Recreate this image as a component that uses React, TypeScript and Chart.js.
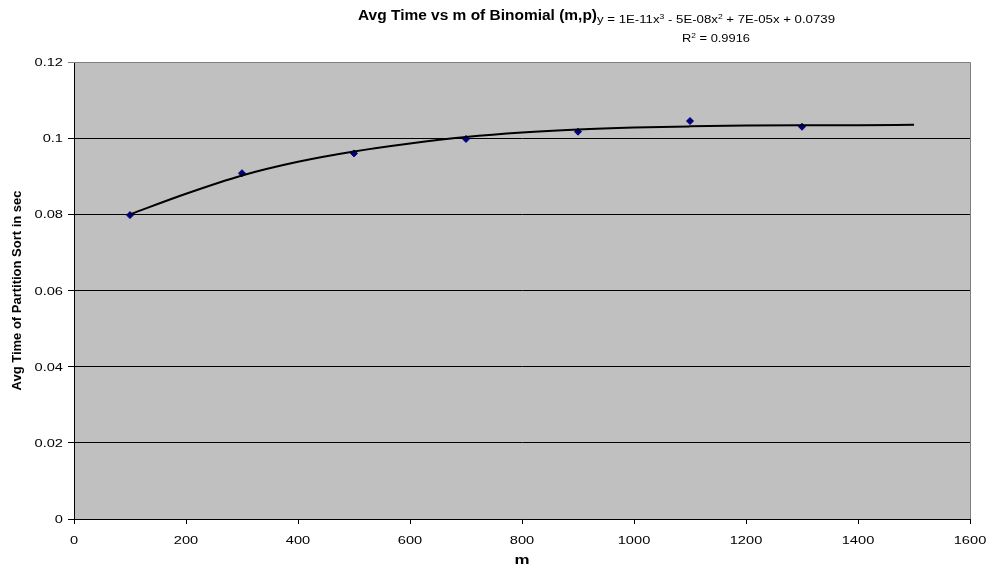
import React, { useEffect, useRef } from "react";
import { Chart, registerables } from "chart.js";

Chart.register(...registerables);

const mValues = [100, 300, 500, 700, 900, 1100, 1300];
const avgTimes = [0.0798, 0.0908, 0.096, 0.0998, 0.1017, 0.1045, 0.103];

const trendM = [100, 200, 300, 400, 500, 600, 700, 800, 900, 1000, 1100, 1200, 1300, 1400, 1500];
const trendTimes = [0.08, 0.0854, 0.0902, 0.0938, 0.0965, 0.0986, 0.1003, 0.1015, 0.1023, 0.1028, 0.1031, 0.1033, 0.1034, 0.1034, 0.1035];

const chartTitle = "Avg Time vs m of Binomial (m,p)";
const xTitle = "m";
const yTitle = "Avg Time of Partition Sort in sec";
const eqParts: [string, boolean][] = [
  ["y = 1E-11x", false],
  ["3", true],
  [" - 5E-08x", false],
  ["2", true],
  [" + 7E-05x + 0.0739", false],
];
const r2Parts: [string, boolean][] = [
  ["R", false],
  ["2", true],
  [" = 0.9916", false],
];

const FONT = "'Liberation Sans', Arial, Helvetica, sans-serif";
const TICK_SX = 1.33;

const fmtX = (v: number) => String(v);
const fmtY = (v: number) => String(+Number(v).toFixed(2));

function partsWidth(ctx: CanvasRenderingContext2D, parts: [string, boolean][], size: number, supSize: number) {
  let w = 0;
  for (const [t, sup] of parts) {
    ctx.font = `${sup ? supSize : size}px ${FONT}`;
    w += ctx.measureText(t).width;
  }
  return w;
}

function drawParts(ctx: CanvasRenderingContext2D, parts: [string, boolean][], x: number, y: number, targetW: number) {
  const size = 11.5;
  const supSize = 7.5;
  const w = partsWidth(ctx, parts, size, supSize);
  const sx = targetW / w;
  ctx.save();
  ctx.translate(x, y);
  ctx.scale(sx, 1);
  let cx = 0;
  for (const [t, sup] of parts) {
    ctx.font = `${sup ? supSize : size}px ${FONT}`;
    ctx.fillText(t, cx, sup ? -4.5 : 0);
    cx += ctx.measureText(t).width;
  }
  ctx.restore();
}

function stretched(ctx: CanvasRenderingContext2D, text: string, x: number, y: number, align: CanvasTextAlign, sx: number, font: string, rot = 0) {
  ctx.save();
  ctx.translate(x, y);
  if (rot) ctx.rotate(rot);
  ctx.scale(sx, 1);
  ctx.font = font;
  ctx.textAlign = align;
  ctx.fillText(text, 0, 0);
  ctx.restore();
}

function fitted(ctx: CanvasRenderingContext2D, text: string, font: string, targetW: number) {
  ctx.font = font;
  return targetW / ctx.measureText(text).width;
}

const decorPlugin = {
  id: "decor",
  beforeDraw(chart: any) {
    const { ctx, chartArea } = chart;
    ctx.save();
    ctx.fillStyle = "#ffffff";
    ctx.fillRect(0, 0, chart.width, chart.height);
    ctx.fillStyle = "#C0C0C0";
    ctx.fillRect(chartArea.left, chartArea.top, chartArea.right - chartArea.left, chartArea.bottom - chartArea.top);
    ctx.restore();
  },
  afterDraw(chart: any) {
    const { ctx, chartArea } = chart;
    ctx.save();
    ctx.strokeStyle = "#808080";
    ctx.lineWidth = 1;
    ctx.beginPath();
    ctx.moveTo(chartArea.left, chartArea.top + 0.5);
    ctx.lineTo(chartArea.right + 0.5, chartArea.top + 0.5);
    ctx.lineTo(chartArea.right + 0.5, chartArea.bottom);
    ctx.stroke();

    ctx.fillStyle = "#000";
    ctx.textBaseline = "alphabetic";

    // tick labels (from the library's scales)
    const tickFont = `11px ${FONT}`;
    const xs = chart.scales.x;
    xs.ticks.forEach((t: any) => {
      stretched(ctx, fmtX(t.value), xs.getPixelForValue(t.value), chartArea.bottom + 24.5, "center", TICK_SX, tickFont);
    });
    const ys = chart.scales.y;
    ys.ticks.forEach((t: any) => {
      stretched(ctx, fmtY(t.value), chartArea.left - 11, ys.getPixelForValue(t.value) + 4, "right", TICK_SX, tickFont);
    });

    // axis titles
    const yFont = `bold 12.5px ${FONT}`;
    const ySx = fitted(ctx, yTitle, yFont, 200);
    stretched(ctx, yTitle, 20.5, (chartArea.top + chartArea.bottom) / 2, "center", ySx, yFont, -Math.PI / 2);
    const xFont = `bold 13px ${FONT}`;
    stretched(ctx, xTitle, (chartArea.left + chartArea.right) / 2, 564, "center", 1.3, xFont);

    // chart title and trendline label
    const tFont = `bold 14px ${FONT}`;
    const tSx = fitted(ctx, chartTitle, tFont, 239);
    stretched(ctx, chartTitle, 358, 20, "left", tSx, tFont);
    drawParts(ctx, eqParts, 597, 23, 238);
    drawParts(ctx, r2Parts, 682, 42, 68);
    ctx.restore();
  },
};

export default function App() {
  const ref = useRef<HTMLCanvasElement | null>(null);
  useEffect(() => {
    document.body.style.margin = "0";
    const canvas = ref.current!;
    const chart = new Chart(canvas, {
      type: "scatter",
      data: {
        datasets: [
          {
            label: "trend",
            data: trendM.map((m, i) => ({ x: m, y: trendTimes[i] })),
            showLine: true,
            borderColor: "#000",
            borderWidth: 2,
            pointRadius: 0,
            tension: 0.4,
            cubicInterpolationMode: "monotone",
          },
          {
            label: "data",
            data: mValues.map((m, i) => ({ x: m, y: avgTimes[i] })),
            showLine: false,
            pointStyle: "rectRot",
            pointRadius: 3.5,
            backgroundColor: "#000080",
            borderColor: "#000080",
            borderWidth: 1,
          },
        ],
      },
      options: {
        animation: false,
        responsive: false,
        devicePixelRatio: 1,
        layout: { padding: { top: 62, right: 20, left: 0, bottom: 0 } },
        plugins: { legend: { display: false }, tooltip: { enabled: false }, title: { display: false } },
        scales: {
          x: {
            type: "linear",
            min: 0,
            max: 1600,
            ticks: {
              stepSize: 200,
              color: "rgba(0,0,0,0)",
              font: { family: FONT, size: 11 },
              padding: 6,
              callback: (v: any) => fmtX(v),
            },
            grid: { drawOnChartArea: false, drawTicks: true, tickLength: 5, color: "#000" },
            border: { color: "#000", width: 1 },
            title: { display: false, text: xTitle },
            afterFit: (s: any) => { s.height = 50; },
          },
          y: {
            min: 0,
            max: 0.12,
            ticks: {
              stepSize: 0.02,
              color: "rgba(0,0,0,0)",
              font: { family: FONT, size: 11 },
              padding: 4,
              callback: (v: any) => fmtY(v),
            },
            grid: {
              drawOnChartArea: true,
              tickLength: 6,
              color: (c: any) => (c.tick && Math.abs(c.tick.value - 0.12) < 1e-9 ? "#808080" : "#000"),
            },
            border: { color: "#000", width: 1 },
            title: { display: false, text: yTitle },
            afterFit: (s: any) => { s.width = 74; },
          },
        },
      },
      plugins: [decorPlugin],
    } as any);
    return () => chart.destroy();
  }, []);
  return (
    <div style={{ position: "absolute", left: 0, top: 0, width: 990, height: 569 }}>
      <canvas ref={ref} width={990} height={569} />
    </div>
  );
}
